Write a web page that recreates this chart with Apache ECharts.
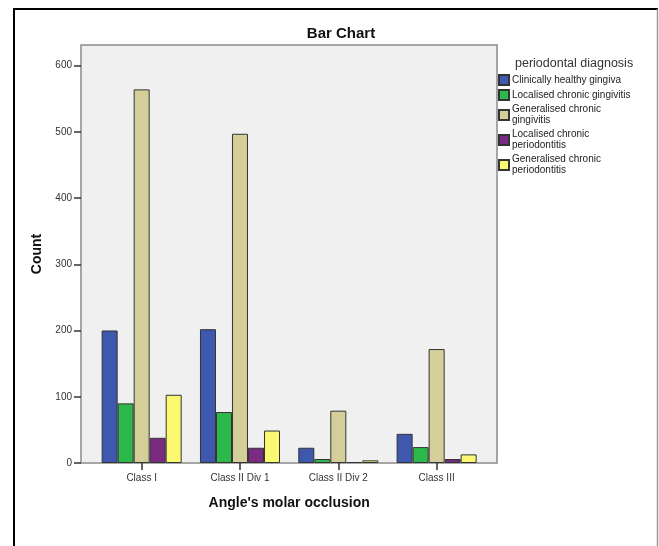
<!DOCTYPE html>
<html>
<head>
<meta charset="utf-8">
<script src="https://cdn.jsdelivr.net/npm/echarts@6/dist/echarts.min.js"></script>
<style>html,body{margin:0;padding:0;background:#fff;}#c{width:659px;height:546px;}</style>
</head>
<body>
<div id="c"></div>
<script>
var categories = ['Class I', 'Class II Div 1', 'Class II Div 2', 'Class III'];
var seriesNames = ['Clinically healthy gingiva', 'Localised chronic gingivitis', 'Generalised chronic\ngingivitis', 'Localised chronic\nperiodontitis', 'Generalised chronic\nperiodontitis'];
var healthyGingiva = [200, 202, 23, 44];
var localisedGingivitis = [90, 77, 6, 24];
var generalisedGingivitis = [564, 497, 79, 172];
var localisedPeriodontitis = [38, 23, 1, 6];
var generalisedPeriodontitis = [103, 49, 4, 13];
var yTicks = [0, 100, 200, 300, 400, 500, 600];

var colors = ['#3d58ad', '#2db84b', '#d4cf98', '#7a2a80', '#fbf872'];
var values = [healthyGingiva, localisedGingivitis, generalisedGingivitis, localisedPeriodontitis, generalisedPeriodontitis];
var font = 'Liberation Sans, Arial, sans-serif';
var yMax = 631;

var chart = echarts.init(document.getElementById('c'), null, {renderer: 'canvas'});
var series = values.map(function (v, i) {
  return {
    name: seriesNames[i],
    type: 'bar',
    xAxisIndex: 1,
    yAxisIndex: 1,
    data: v,
    barGap: '0%',
    barCategoryGap: '18.6%',
    barMinHeight: 1,
    itemStyle: {color: colors[i], borderColor: '#333', borderWidth: 1},
    emphasis: {disabled: true},
    animation: false
  };
});

chart.setOption({
  animation: false,
  title: [
    {text: 'Bar Chart', left: 336, top: 21, textAlign: 'center',
     textStyle: {fontFamily: font, fontSize: 15, fontWeight: 'bold', color: '#111'}},
    {text: 'periodontal diagnosis', left: 510, top: 52,
     textStyle: {fontFamily: font, fontSize: 12.5, fontWeight: 'normal', color: '#333'}}
  ],
  legend: {
    orient: 'vertical', left: 498, top: 74,
    itemWidth: 10, itemHeight: 10, itemGap: 3,
    icon: 'rect',
    padding: 0,
    data: seriesNames,
    selectedMode: false,
    textStyle: {fontFamily: font, fontSize: 10, lineHeight: 11, color: '#222', padding: [0, 0, 0, -2]}
  },
  grid: [
    {left: 81, top: 45, width: 416, height: 418, show: true, backgroundColor: '#f0f0f0', borderColor: '#8a8a8a', borderWidth: 1.5},
    {left: 92.5, top: 45, width: 393.3, height: 418}
  ],
  xAxis: [
    {type: 'value', gridIndex: 0, show: false, min: 0, max: 1},
    {type: 'category', gridIndex: 1, data: categories,
     axisLine: {show: false},
     axisTick: {show: true, alignWithLabel: true, length: 7, lineStyle: {color: '#333', width: 1.5}},
     axisLabel: {fontFamily: font, fontSize: 10, color: '#333', margin: 10},
     name: "Angle's molar occlusion", nameLocation: 'middle', nameGap: 33,
     nameTextStyle: {fontFamily: font, fontSize: 14, fontWeight: 'bold', color: '#111'}}
  ],
  yAxis: [
    {type: 'value', gridIndex: 0, min: yTicks[0], max: yMax, interval: 100,
     axisLine: {show: false},
     axisTick: {show: true, length: 7, lineStyle: {color: '#333', width: 1.5}},
     axisLabel: {fontFamily: font, fontSize: 10, color: '#333', margin: 9, showMaxLabel: false,
       formatter: function (v) { return yTicks.indexOf(v) >= 0 ? String(v) : ''; }},
     splitLine: {show: false},
     name: 'Count', nameLocation: 'middle', nameGap: 35,
     nameTextStyle: {fontFamily: font, fontSize: 14, fontWeight: 'bold', color: '#111'}},
    {type: 'value', gridIndex: 1, min: 0, max: yMax, show: false, splitLine: {show: false}}
  ],
  graphic: [
    {type: 'line', shape: {x1: 14, y1: 9, x2: 14, y2: 546}, style: {stroke: '#000', lineWidth: 2}},
    {type: 'line', shape: {x1: 13, y1: 9, x2: 658, y2: 9}, style: {stroke: '#000', lineWidth: 2}},
    {type: 'line', shape: {x1: 657.5, y1: 9, x2: 657.5, y2: 546}, style: {stroke: '#999', lineWidth: 1.5}}
  ],
  series: series
});
</script>
</body>
</html>
